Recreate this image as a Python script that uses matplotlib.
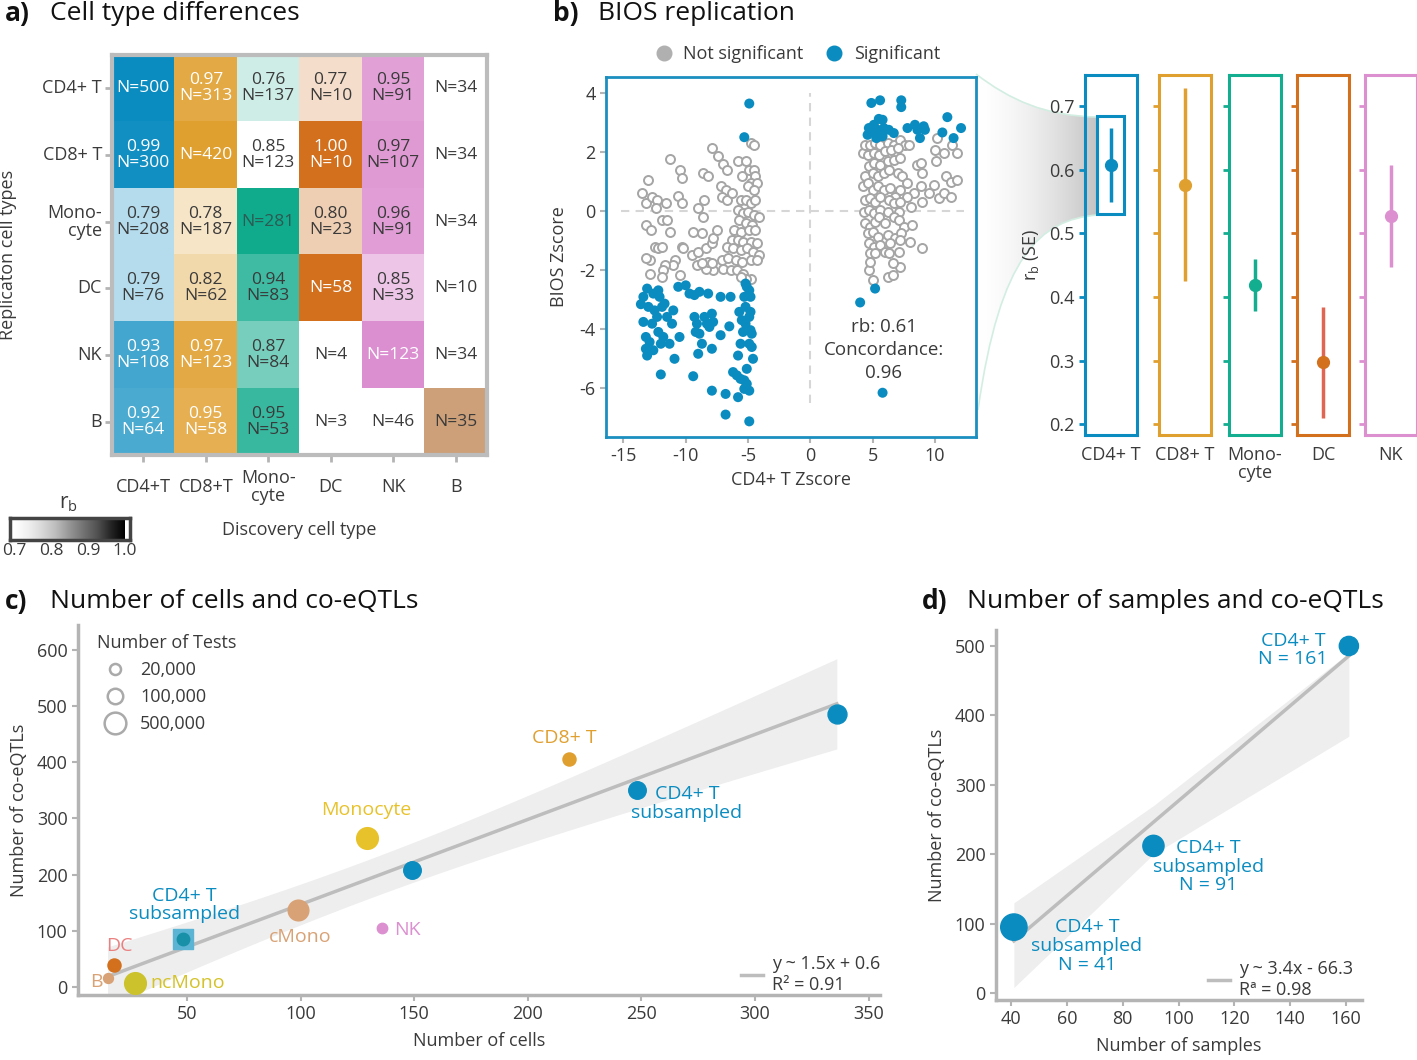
import numpy as np
import matplotlib
matplotlib.use('Agg')
import matplotlib.pyplot as plt
from matplotlib.patches import Rectangle, PathPatch
from matplotlib.path import Path
from matplotlib.lines import Line2D
import matplotlib.colors as mcolors

plt.rcParams['font.family'] = ['Open Sans', 'DejaVu Sans']

W, H = 1417, 1060
DARK = '#3a3a3a'
AXGRAY = '#b4b4b4'

# ---------------- data ----------------
# a) cell type differences (rows = replication, cols = discovery)
rep_types = ['CD4+ T', 'CD8+ T', 'Mono-\ncyte', 'DC', 'NK', 'B']
disc_types = ['CD4+T', 'CD8+T', 'Mono-\ncyte', 'DC', 'NK', 'B']
nan = np.nan
rb_mat = [[nan, 0.97, 0.76, 0.77, 0.95, nan],
          [0.99, nan, 0.85, 1.00, 0.97, nan],
          [0.79, 0.78, nan, 0.80, 0.96, nan],
          [0.79, 0.82, 0.94, nan, 0.85, nan],
          [0.93, 0.97, 0.87, nan, nan, nan],
          [0.92, 0.95, 0.95, nan, nan, nan]]
n_mat = [[500, 313, 137, 10, 91, 34],
         [300, 420, 123, 10, 107, 34],
         [208, 187, 281, 23, 91, 34],
         [76, 62, 83, 58, 33, 10],
         [108, 123, 84, 4, 123, 34],
         [64, 58, 53, 3, 46, 35]]
unshaded = [(1, 2)]

# b) BIOS replication scatter
sig_x = [-4.9, -5.3, -13.6, -13.4, -13.1, -12.6, -12.2, -12.1, -13.4, -13.0, -12.5, -11.9, -11.7,
         -11.0, -11.5, -11.1, -12.3, -12.7, -13.2, -12.9, -12.2, -11.8, -11.3, -12.0, -13.2, -13.1,
         -12.6, -10.9, -12.0, -10.5, -10.6, -10.0, -9.7, -9.3, -8.9, -8.2, -9.3, -9.1, -9.2, -8.9,
         -8.5, -8.3, -7.9, -7.8, -8.1, -8.7, -7.9, -9.0, -9.4, -7.9, -7.2, -6.4, -7.2, -6.5, -6.8,
         -6.8, -6.2, -5.9, -5.8, -5.6, -5.8, -5.6, -5.4, -5.2, -5.5, -5.7, -5.2, -4.8, -4.9, -4.8,
         -5.3, -5.1, -5.2, -4.9, -4.8, -4.7, -4.9, -4.7, -4.6, -5.1, -5.3, -5.1, -4.9, -5.3, -4.9,
         4.9, 5.6, 7.3, 7.3, 4.7, 5.1, 5.5, 5.8, 4.6, 5.0, 5.4, 5.9, 6.3, 6.7, 5.3, 5.8, 7.8, 8.4,
         8.6, 8.8, 9.1, 9.2, 11.0, 10.6, 11.5, 12.1, 5.2, 4.0, 5.8]
sig_y = [3.64, 2.50, -3.16, -2.91, -2.63, -2.80, -2.69, -2.91, -3.76, -3.25, -3.37, -3.25, -3.14,
         -3.37, -3.59, -3.82, -3.59, -3.82, -4.27, -4.44, -4.10, -4.27, -4.50, -4.50, -4.67, -4.90,
         -4.72, -5.01, -5.54, -4.27, -2.57, -2.52, -2.80, -2.85, -2.74, -2.80, -3.59, -3.82, -4.10,
         -4.16, -3.59, -3.82, -3.48, -3.76, -3.93, -4.50, -4.67, -4.84, -5.60, -6.09, -2.91, -2.91,
         -4.21, -3.91, -6.20, -6.90, -5.46, -5.57, -6.31, -5.69, -4.90, -4.50, -4.10, -3.82, -3.70,
         -3.42, -3.25, -3.42, -3.59, -2.91, -2.91, -2.57, -2.46, -2.69, -4.04, -4.16, -4.50, -4.61,
         -5.01, -5.35, -5.74, -5.86, -6.09, -6.03, -7.13,
         3.66, 3.75, 3.75, 3.52, 2.81, 2.92, 3.12, 3.09, 2.58, 2.70, 2.75, 2.81, 2.75, 2.64, 2.47,
         2.53, 2.81, 2.92, 2.75, 2.47, 2.87, 2.75, 3.18, 2.66, 2.47, 2.81, -2.63, -3.10, -6.16]
ns_x = [-7.9, -7.4, -7.0, -11.3, -13.0, -10.5, -10.3, -8.6, -8.2, -10.6, -10.3, -13.5, -13.2, -12.7,
        -12.3, -11.6, -12.4, -7.2, -6.8, -7.1, -6.7, -6.3, -5.8, -5.5, -5.2, -4.8, -4.5, -4.9, -4.5,
        -4.4, -4.8, -4.3, -5.0, -4.5, -5.6, -5.2, -4.8, -4.4, -5.8, -5.4, -5.0, -4.5, -4.1, -5.7,
        -5.2, -4.7, -6.1, -5.6, -4.9, -4.4, -6.3, -5.8, -5.4, -4.8, -4.3, -6.7, -6.2, -5.6, -5.1,
        -4.6, -4.1, -7.1, -6.6, -6.0, -5.5, -4.8, -4.3, -7.0, -6.4, -5.9, -5.4, -4.8, -5.2, -5.6,
        -7.8, -8.4, -9.1, -9.5, -9.0, -8.4, -7.9, -7.8, -7.5, -8.2, -8.7, -7.9, -9.4, -8.7, -8.6,
        -9.0, -8.5, -10.3, -10.2, -10.9, -11.0, -11.7, -11.8, -11.9, -12.9, -12.9, -13.2, -12.5,
        -12.2, -11.9, -13.2, -12.8, -11.9, -11.5, -11.3, -10.5, -6.7,
        4.2, 4.4, 4.8, 5.2, 5.6, 6.2, 6.7, 7.2, 7.6, 4.6, 5.1, 5.5, 6.0, 6.5, 7.0, 7.9, 4.7, 5.1,
        5.6, 6.2, 6.7, 7.2, 4.4, 5.0, 5.4, 5.9, 6.3, 7.0, 7.4, 7.8, 8.6, 8.9, 9.0, 10.0, 10.2, 10.7,
        11.4, 11.8, 10.1, 10.9, 11.3, 11.8, 9.9, 10.3, 10.7, 11.3, 9.5, 9.0, 8.9, 8.3, 8.1, 7.8,
        7.2, 4.2, 4.6, 5.0, 5.4, 5.9, 6.4, 6.8, 4.4, 4.8, 5.2, 5.6, 6.3, 6.7, 4.3, 4.7, 5.1, 5.6,
        6.2, 7.1, 7.2, 4.4, 4.8, 5.2, 5.5, 6.0, 6.7, 7.1, 7.5, 8.2, 4.6, 5.0, 5.4, 6.2, 6.8, 7.3,
        4.7, 5.1, 5.6, 6.4, 7.2, 8.0, 9.0, 4.8, 5.2, 6.0, 6.3, 7.1, 4.7, 5.0, 6.2, 6.6, 7.2, 4.8,
        6.6]
ns_y = [2.13, 1.85, 1.60, 1.76, 1.05, 1.39, 1.11, 1.28, 1.17, 0.52, 0.28, 0.60, 0.28, 0.49, 0.37,
        0.26, 0.09, 0.83, 0.71, 0.49, 0.37, 0.60, 1.68, 1.17, 1.68, 2.30, 2.24, 1.39, 1.39, 1.17,
        0.94, 0.94, 0.83, 0.71, 0.37, 0.37, 0.26, 0.37, 0.03, -0.08, -0.02, -0.14, -0.19, -0.31,
        -0.42, -0.48, -0.65, -0.70, -0.65, -0.65, -0.99, -0.99, -1.04, -1.04, -1.10, -1.21, -1.27,
        -1.33, -1.27, -1.38, -1.50, -1.67, -1.61, -1.67, -1.72, -1.67, -1.67, -1.95, -2.01, -2.01,
        -2.12, -2.29, -2.29, -2.23, -2.01, -1.95, -1.84, -1.50, -1.38, -1.27, -1.10, -0.93, -0.65,
        -1.72, -1.78, -1.78, -0.70, -0.76, -0.19, 0.09, 0.37, -1.21, -1.27, -1.67, -1.84, -1.84,
        -2.01, -2.23, -2.12, -1.67, -1.61, -1.21, -1.27, -1.21, -0.48, -0.65, -0.31, -0.31, -0.70,
        -2.18, 1.39,
        1.96, 2.24, 2.24, 2.30, 2.24, 2.30, 2.24, 2.41, 2.24, 1.90, 1.96, 1.90, 2.02, 2.07, 2.13,
        2.24, 1.51, 1.62, 1.56, 1.68, 1.73, 1.79, 1.17, 1.28, 1.17, 1.28, 1.39, 1.28, 1.17, 0.94,
        1.56, 1.62, 1.28, 2.07, 2.47, 1.96, 2.24, 1.96, 1.68, 1.17, 0.99, 1.05, 0.88, 0.43, 0.60,
        0.49, 0.60, 0.32, 0.83, 0.60, 0.15, 0.49, 0.71, 0.83, 0.94, 0.71, 0.83, 0.71, 0.77, 0.49,
        0.37, 0.43, 0.32, 0.49, 0.37, 0.26, -0.02, 0.03, -0.08, 0.03, -0.02, -0.02, 0.32, -0.42,
        -0.53, -0.36, -0.19, -0.42, -0.19, -0.31, -0.53, -0.48, -0.76, -0.70, -0.87, -0.82, -0.93,
        -0.76, -1.10, -1.21, -1.16, -1.10, -0.99, -1.04, -1.27, -1.44, -1.44, -1.38, -1.44, -1.38,
        -2.01, -2.35, -2.23, -2.18, -1.89, -1.72, -1.78]

# b) replication per cell type
rep_cells = ['CD4+ T', 'CD8+ T', 'Mono-\ncyte', 'DC', 'NK']
rep_rb = [0.608, 0.576, 0.419, 0.298, 0.527]
rep_lo = [0.550, 0.425, 0.378, 0.210, 0.447]
rep_hi = [0.665, 0.728, 0.460, 0.385, 0.607]

# c) number of cells vs co-eQTLs
c_names = ['CD4+ T', 'CD8+ T', 'CD4+ T sub 1', 'Monocyte', 'CD4+ T sub 2', 'cMono', 'NK',
           'CD4+ T sub 3', 'DC', 'B', 'ncMono']
c_cells = [336, 218, 248, 129, 149, 99, 136, 48, 18, 15, 27]
c_coeqtl = [485, 405, 350, 265, 208, 138, 106, 85, 40, 17, 7]
c_tests = [260000, 45000, 180000, 500000, 180000, 400000, 15000, 60000, 45000, 12000, 500000]

# d) number of samples vs co-eQTLs
d_samples = [161, 91, 41]
d_coeqtl = [500, 212, 95]
d_tests = [200000, 320000, 900000]
d_band_x = [41, 91, 161]
d_band_lo = [8, 200, 370]
d_band_hi = [130, 270, 490]


def box(x0, y0, x1, y1):
    # pixel box (top-left origin) -> figure rect
    return [x0 / W, 1 - y1 / H, (x1 - x0) / W, (y1 - y0) / H]


def tests_to_size(n):
    d = 1.38 * np.asarray(n, dtype=float) ** 0.21
    return (d * 0.72) ** 2


fig = plt.figure(figsize=(W / 100, H / 100), dpi=100)

# ---------------- panel titles ----------------
for x, y, tag, title in [(5, 14, 'a)', 'Cell type differences'), (553, 14, 'b)', 'BIOS replication'),
                         (5, 601, 'c)', 'Number of cells and co-eQTLs'),
                         (922, 601, 'd)', 'Number of samples and co-eQTLs')]:
    fig.text(x / W, 1 - y / H, tag, fontsize=19, fontweight='bold', va='center', color='#111')
    fig.text((x + 45) / W, 1 - y / H, title, fontsize=19, va='center', color='#111')

# ---------------- a) heatmap ----------------
disc_colors = ['#0a8cc0', '#e0a030', '#10aa8c', '#d2701e', '#dc8fd0', '#cda07a']
ax = fig.add_axes(box(112, 55, 487, 455))
rgb = np.ones((6, 6, 3))
for i in range(6):
    for j in range(6):
        c = np.array(mcolors.to_rgb(disc_colors[j]))
        rb = rb_mat[i][j]
        if i == j:
            rgb[i, j] = c
        elif not np.isnan(rb) and (i, j) not in unshaded:
            a = np.clip((rb - 0.7) / 0.3, 0, 1)
            rgb[i, j] = a * c + (1 - a) * np.ones(3)
ax.imshow(rgb, aspect='auto', extent=[-0.5, 5.5, 5.5, -0.5])
for i in range(6):
    for j in range(6):
        rb = rb_mat[i][j]
        txt = f'N={n_mat[i][j]}' if np.isnan(rb) else f'{rb:.2f}\nN={n_mat[i][j]}'
        white = (i == j and j not in (2, 5)) or (j in (0, 1, 3) and not np.isnan(rb) and rb >= 0.9)
        col = 'white' if white else DARK
        if j == 2 and i == j:
            col = '#2d5a52'
        ax.text(j, i, txt, ha='center', va='center', fontsize=12.5, color=col, linespacing=1.0)
ax.set_xlim(-0.5, 5.5)
ax.set_ylim(5.5, -0.5)
ax.set_xticks(range(6))
ax.set_yticks(range(6))
ax.set_xticklabels([])
ax.set_yticklabels([])
ax.tick_params(color=AXGRAY, length=5, width=2)
for s in ax.spines.values():
    s.set_color('#bcbcbc')
    s.set_linewidth(3)
for j, lab in enumerate(disc_types):
    ax.text(j, 5.98, lab, ha='center', va='center', fontsize=13, color=DARK, linespacing=1.0,
            clip_on=False)
for i, lab in enumerate(rep_types):
    ax.text(-0.66, i, lab, ha='right', va='center', fontsize=13, color=DARK, linespacing=1.0,
            multialignment='right', clip_on=False)
ax.text(2.5, 6.62, 'Discovery cell type', ha='center', va='center', fontsize=13, color=DARK,
        clip_on=False)
ax.text(-2.17, 2.5, 'Replicaton cell types', ha='center', va='center', fontsize=13, color=DARK,
        rotation=90, clip_on=False)

# colour key
cax = fig.add_axes(box(10, 518, 130, 540))
cax.imshow(np.linspace(0.7, 1.0, 256)[None, :], cmap='Greys', extent=[0.7, 1.0, 0, 1],
           aspect='auto', vmin=0.7, vmax=1.0)
cax.set_xlim(0.689, 1.0135)
cax.set_xticks([0.7, 0.8, 0.9, 1.0])
cax.set_xticklabels(['0.7', '0.8', '0.9', '1.0'], fontsize=12.5, color=DARK)
cax.set_yticks([])
cax.tick_params(length=0, pad=2)
for s in cax.spines.values():
    s.set_color('#444')
    s.set_linewidth(2.5)
fig.text(68 / W, 1 - 503 / H, r'r$_\mathregular{b}$', fontsize=15, ha='center', va='center', color=DARK)

# ---------------- b) funnel highlight ----------------
fax = fig.add_axes(box(975, 60, 1100, 440), zorder=0)
fax.set_xlim(975, 1100)
fax.set_ylim(440, 60)
fax.axis('off')
verts = [(976, 74), (1010, 100), (1045, 116), (1097, 117), (1097, 215),
         (1040, 220), (1000, 255), (978, 410), (976, 74)]
codes = [Path.MOVETO, Path.CURVE4, Path.CURVE4, Path.CURVE4, Path.LINETO,
         Path.CURVE4, Path.CURVE4, Path.CURVE4, Path.CLOSEPOLY]
patch = PathPatch(Path(verts, codes), facecolor='none', edgecolor='none')
fax.add_patch(patch)
grad = np.linspace(0, 1, 200) ** 1.6
gcmap = mcolors.LinearSegmentedColormap.from_list('g', ['#ffffff', '#c4c4c4'])
im = fax.imshow(grad[None, :], cmap=gcmap, extent=[976, 1097, 440, 60], aspect='auto')
im.set_clip_path(patch)
top = Path(verts[:4], codes[:4])
bot = Path([(1097, 215), (1040, 220), (1000, 255), (978, 410)], codes[:4])
for p in (top, bot):
    fax.add_patch(PathPatch(p, facecolor='none', edgecolor='#d2eee2', lw=1.2))

# ---------------- b) scatter ----------------
BLUE = '#0a8cc0'
bx = fig.add_axes(box(606, 77, 976, 437), zorder=2)
bx.hlines(0, -15.2, 12.3, colors='#d6d6d6', linestyles=(0, (4, 3)), lw=1.5)
bx.vlines(0, -6.5, 4.0, colors='#d6d6d6', linestyles=(0, (4, 3)), lw=1.5)
bx.scatter(ns_x, ns_y, s=42, facecolors='white', edgecolors='#a5a5a5', linewidths=1.4, zorder=3)
bx.scatter(sig_x, sig_y, s=52, color=BLUE, edgecolors='none', zorder=4)
bx.set_xlim(-16.4, 13.3)
bx.set_ylim(-7.66, 4.54)
bx.set_xticks([-15, -10, -5, 0, 5, 10])
bx.set_xticklabels(['-15', '-10', '-5', '0', '5', '10'])
bx.set_yticks([-6, -4, -2, 0, 2, 4])
bx.set_yticklabels(['-6', '-4', '-2', '0', '2', '4'])
bx.tick_params(labelsize=13, labelcolor=DARK, color=AXGRAY, length=4, width=1.5)
for s in bx.spines.values():
    s.set_color('#1b8fc0')
    s.set_linewidth(2)
bx.set_xlabel('CD4+ T Zscore', fontsize=13, color=DARK, labelpad=4)
bx.set_ylabel('BIOS Zscore', fontsize=13, color=DARK, labelpad=8)
bx.text(5.9, -4.7, 'rb: 0.61\nConcordance:\n0.96', ha='center', va='center', fontsize=13.5,
        color=DARK, linespacing=1.35)
handles = [Line2D([], [], marker='o', ls='', color='#b0b0b0', ms=10.5),
           Line2D([], [], marker='o', ls='', color=BLUE, ms=10.5)]
fig.legend(handles, ['Not significant', 'Significant'], loc='center',
           bbox_to_anchor=(793 / W, 1 - 54 / H), ncol=2, frameon=False, fontsize=13,
           handletextpad=0.1, columnspacing=0.7, labelcolor=DARK)

# ---------------- b) per cell type rb ----------------
pan_cols = ['#0a8cc0', '#e0a030', '#13ad8f', '#d2701e', '#dc90d0']
err_cols = ['#0a8cc0', '#e0a030', '#13ad8f', '#e06552', '#dc90d0']
pan_x = [1085, 1159, 1229, 1297, 1365]
for k, (name, rb, lo, hi) in enumerate(zip(rep_cells, rep_rb, rep_lo, rep_hi)):
    px = fig.add_axes(box(pan_x[k], 75, pan_x[k] + 52, 435), zorder=2)
    px.patch.set_alpha(0)
    px.set_xlim(0, 1)
    px.set_ylim(0.183, 0.749)
    px.vlines(0.5, lo, hi, color=err_cols[k], lw=2.5)
    px.plot(0.5, rb, 'o', color=pan_cols[k], ms=8.5)
    if k == 0:
        px.add_patch(Rectangle((0.23, 0.530), 0.52, 0.155, fill=False, ec=pan_cols[k], lw=2.2))
    for s in px.spines.values():
        s.set_color(pan_cols[k])
        s.set_linewidth(2.2)
    px.set_yticks([0.2, 0.3, 0.4, 0.5, 0.6, 0.7])
    px.set_xticks([0.5])
    px.set_xticklabels([name], fontsize=13, color=DARK, linespacing=1.0, va='top')
    px.tick_params(axis='x', length=0, pad=8)
    px.tick_params(axis='y', color=pan_cols[k], length=4, width=2, labelsize=13, labelcolor=DARK)
    if k == 0:
        px.set_yticklabels(['0.2', '0.3', '0.4', '0.5', '0.6', '0.7'])
        px.set_ylabel(r'r$_\mathregular{b}$ (SE)', fontsize=13, color=DARK, labelpad=6)
    else:
        px.set_yticklabels([])

# ---------------- c) cells vs co-eQTLs ----------------
c_colors = ['#0a8cc0', '#e0a030', '#0a8cc0', '#e8c22a', '#0a8cc0', '#d9a276', '#dc90d0',
            '#1890a8', '#d2701e', '#d9a276', '#cbc22c']
cx = fig.add_axes(box(78, 625, 880, 995))
xc = np.array(c_cells, dtype=float)
yc = np.array(c_coeqtl, dtype=float)
slope, icpt = np.polyfit(xc, yc, 1)
xs = np.linspace(xc.min(), xc.max(), 100)
resid = yc - (slope * xc + icpt)
s_err = np.sqrt(np.sum(resid ** 2) / (len(xc) - 2))
se = s_err * np.sqrt(1 / len(xc) + (xs - xc.mean()) ** 2 / np.sum((xc - xc.mean()) ** 2))
fit = slope * xs + icpt
cx.fill_between(xs, fit - 2.262 * se, fit + 2.262 * se, color='#eeeeee', lw=0, zorder=1)
cx.plot(xs, fit, color='#bdbdbd', lw=2.5, zorder=2)
sizes = tests_to_size(c_tests)
for k in range(len(c_cells)):
    if k == 7:
        cx.scatter(c_cells[k], c_coeqtl[k], s=200, marker='s', color='#5cb4d4', zorder=3)
        cx.scatter(c_cells[k], c_coeqtl[k], s=sizes[k] * 0.8, color=c_colors[k], zorder=4)
    else:
        cx.scatter(c_cells[k], c_coeqtl[k], s=sizes[k], color=c_colors[k], zorder=4)
cfs = 14
cx.text(216, 443, 'CD8+ T', color='#e0a030', fontsize=cfs, ha='center', va='center')
cx.text(270, 327, 'CD4+ T\nsubsampled', color=BLUE, fontsize=cfs, ha='center', va='center',
        linespacing=1.05)
cx.text(129, 315, 'Monocyte', color='#e8c22a', fontsize=cfs, ha='center', va='center')
cx.text(49, 146, 'CD4+ T\nsubsampled', color=BLUE, fontsize=cfs, ha='center', va='center',
        linespacing=1.05)
cx.text(100, 89, 'cMono', color='#d9a276', fontsize=cfs, ha='center', va='center')
cx.text(141, 101, 'NK', color='#dc90d0', fontsize=cfs, ha='left', va='center')
cx.text(20, 73, 'DC', color='#ea8080', fontsize=cfs, ha='center', va='center')
cx.text(13, 9, 'B', color='#d9a276', fontsize=cfs, ha='right', va='center')
cx.text(34, 7, 'ncMono', color='#d4c22a', fontsize=cfs, ha='left', va='center')
cx.set_xlim(2, 355)
cx.set_ylim(-14, 644)
cx.set_xticks([50, 100, 150, 200, 250, 300, 350])
cx.set_yticks([0, 100, 200, 300, 400, 500, 600])
cx.tick_params(labelsize=13, labelcolor=DARK, color=AXGRAY, length=4, width=1.5)
for side in ('top', 'right'):
    cx.spines[side].set_visible(False)
for side in ('left', 'bottom'):
    cx.spines[side].set_color(AXGRAY)
    cx.spines[side].set_linewidth(2.5)
cx.set_xlabel('Number of cells', fontsize=13, color=DARK, labelpad=6)
cx.set_ylabel('Number of co-eQTLs', fontsize=13, color=DARK, labelpad=6)
leg_h = [Line2D([], [], marker='o', ls='', mfc='none', mec='#aaaaaa', mew=1.8,
                ms=np.sqrt(tests_to_size(n))) for n in (20000, 100000, 500000)]
leg1 = cx.legend(leg_h, ['20,000', '100,000', '500,000'], title='Number of Tests',
                 loc='upper left', bbox_to_anchor=(0.003, 1.02), frameon=False, fontsize=13,
                 title_fontsize=13, alignment='left', handletextpad=0.4, labelspacing=0.5,
                 labelcolor=DARK)
leg1.get_title().set_color(DARK)
cx.add_artist(leg1)
cx.legend([Line2D([], [], color='#bdbdbd', lw=2.5)], ['y ~ 1.5x + 0.6\nR² = 0.91'],
          loc='lower right', bbox_to_anchor=(1.02, -0.04), frameon=False, fontsize=13,
          handlelength=1.2, handletextpad=0.5, labelcolor=DARK)

# ---------------- d) samples vs co-eQTLs ----------------
dx = fig.add_axes(box(996, 630, 1362, 1000))
xd = np.array(d_samples, dtype=float)
yd = np.array(d_coeqtl, dtype=float)
ds, di = np.polyfit(xd, yd, 1)
xs = np.linspace(xd.min(), xd.max(), 50)
dx.fill_between(d_band_x, d_band_lo, d_band_hi, color='#eeeeee', lw=0, zorder=1)
dx.plot(xs, ds * xs + di, color='#bdbdbd', lw=2.5, zorder=2)
dx.scatter(d_samples, d_coeqtl, s=tests_to_size(d_tests) * 1.15, color=BLUE, zorder=3)
dx.text(141, 494, 'CD4+ T\nN = 161', color=BLUE, fontsize=14, ha='center', va='center',
        linespacing=1.05)
dx.text(110.6, 182, 'CD4+ T\nsubsampled\nN = 91', color=BLUE, fontsize=14, ha='center',
        va='center', linespacing=1.05)
dx.text(67.2, 68, 'CD4+ T\nsubsampled\nN = 41', color=BLUE, fontsize=14, ha='center',
        va='center', linespacing=1.05)
dx.set_xlim(34.6, 165.7)
dx.set_ylim(-10, 523)
dx.set_xticks([40, 60, 80, 100, 120, 140, 160])
dx.set_yticks([0, 100, 200, 300, 400, 500])
dx.tick_params(labelsize=13, labelcolor=DARK, color=AXGRAY, length=4, width=1.5)
for side in ('top', 'right'):
    dx.spines[side].set_visible(False)
for side in ('left', 'bottom'):
    dx.spines[side].set_color(AXGRAY)
    dx.spines[side].set_linewidth(2.5)
dx.set_xlabel('Number of samples', fontsize=13, color=DARK, labelpad=6)
dx.set_ylabel('Number of co-eQTLs', fontsize=13, color=DARK, labelpad=6)
dx.legend([Line2D([], [], color='#bdbdbd', lw=2.5)], ['y ~ 3.4x - 66.3\nRª = 0.98'],
          loc='lower right', bbox_to_anchor=(1.02, -0.04), frameon=False, fontsize=13,
          handlelength=1.2, handletextpad=0.5, labelcolor=DARK)

fig.savefig('out.png', dpi=100)
